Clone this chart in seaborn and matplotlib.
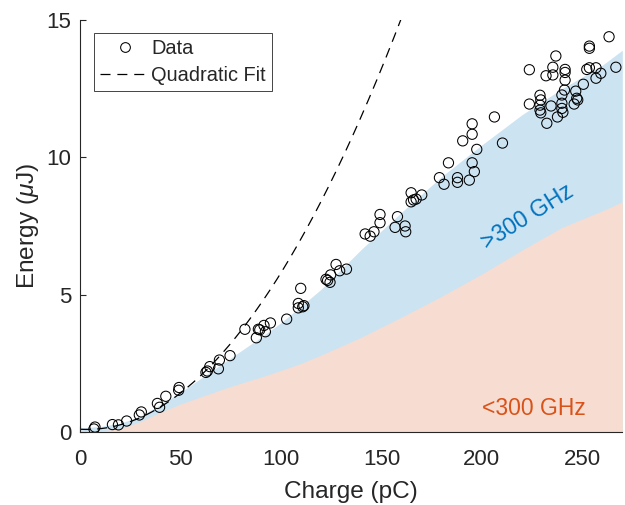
import numpy as np
import pandas as pd
import matplotlib
matplotlib.use("Agg")
import matplotlib.pyplot as plt
from matplotlib.lines import Line2D
import seaborn as sns

# Measured pulse energy vs. bunch charge
charge_pc = [6.8, 7.3, 16.0, 19.0, 23.1, 29.4, 30.4, 38.4, 39.5, 42.6, 49.0, 49.2,
             62.6, 63.3, 64.5, 68.8, 69.3, 74.6,
             82.0, 87.7, 88.7, 89.4, 91.5, 92.2, 94.7, 102.8,
             108.6, 108.6, 110.8, 111.4, 109.8,
             122.4, 123.2, 124.4, 124.7, 127.4, 129.2, 132.6,
             141.9, 144.4, 146.3, 149.3, 149.3, 156.8, 158.0, 161.8, 162.1,
             164.8, 164.8, 166.0, 167.3, 170.1,
             178.9, 181.2, 183.4, 187.9, 187.9, 190.5, 193.8, 195.2, 196.3, 195.2, 195.2, 197.5,
             206.3, 210.3,
             223.7, 223.7, 229.0, 229.4, 229.0, 229.0, 229.4, 232.0, 235.4, 235.4, 232.4, 234.5, 236.9, 237.7,
             239.9, 239.9, 239.9, 240.4, 241.5, 241.5, 241.5, 241.2, 246.8, 247.3, 247.8, 246.0, 250.6, 252.3,
             253.6, 253.6, 253.6, 256.9, 256.9, 259.3, 263.4, 266.8]
energy_uj = [0.11, 0.18, 0.27, 0.26, 0.40, 0.62, 0.73, 1.04, 0.90, 1.30, 1.52, 1.62,
             2.17, 2.22, 2.38, 2.30, 2.62, 2.78,
             3.74, 3.43, 3.74, 3.72, 3.88, 3.65, 3.97, 4.11,
             4.68, 4.52, 4.56, 4.60, 5.23,
             5.56, 5.52, 5.45, 5.72, 6.10, 5.87, 5.93,
             7.21, 7.13, 7.29, 7.92, 7.62, 7.45, 7.84, 7.50, 7.29,
             8.71, 8.38, 8.45, 8.48, 8.63,
             9.26, 9.02, 9.80, 9.26, 9.09, 10.60, 9.17, 9.80, 9.48, 10.84, 11.22, 10.29,
             11.47, 10.52,
             13.19, 11.94, 12.26, 12.09, 11.90, 11.72, 11.62, 12.97, 13.28, 13.00, 11.24, 11.87, 13.69, 11.47,
             12.27, 11.97, 11.78, 11.64, 13.20, 13.09, 12.81, 12.45, 12.41, 12.15, 12.09, 11.94, 12.66, 13.20,
             13.26, 14.05, 13.97, 13.26, 12.88, 13.06, 14.39, 13.28]

# Spectral content bands (upper edges of the shaded regions)
band_charge = [0, 10, 20, 30, 40, 50, 60, 75, 90, 100, 110, 120, 140, 160, 180, 200, 220, 240, 260, 270]
total_energy = [0.15, 0.20, 0.32, 0.58, 1.00, 1.45, 1.95, 2.70, 3.45, 3.98, 4.58, 5.20, 6.65, 8.00,
                9.30, 10.45, 11.55, 12.50, 13.35, 13.90]
low_freq_energy = [0.02, 0.04, 0.12, 0.38, 0.72, 1.02, 1.28, 1.66, 2.00, 2.24, 2.50, 2.80, 3.45, 4.18,
                   4.94, 5.75, 6.62, 7.45, 8.05, 8.38]

# Quadratic fit coefficients (highest order first), uJ vs pC
fit_coeffs = [6.1e-4, -0.004, 0.1]
fit_range = [0, 170]

x_ticks = [0, 50, 100, 150, 200, 250]
y_ticks = [0, 5, 10, 15]

sns.set_theme(style="white")
plt.rcParams["font.family"] = ["Liberation Sans", "DejaVu Sans"]
plt.rcParams["mathtext.fontset"] = "custom"
plt.rcParams["mathtext.rm"] = "Liberation Sans"
plt.rcParams["mathtext.it"] = "Liberation Sans:italic"

ink = "#262626"
blue_fill = "#CCE3F2"
orange_fill = "#F7DDD1"
dash_pattern = (8, 5.5)

fig = plt.figure(figsize=(6.25, 5.05), dpi=100)
ax = fig.add_axes([80.3 / 625, 1 - 432 / 505, 542 / 625, 412 / 505])

ax.fill_between(band_charge, 0, total_energy, color=blue_fill, lw=0, zorder=1)
ax.fill_between(band_charge, 0, low_freq_energy, color=orange_fill, lw=0, zorder=1.1)

data = pd.DataFrame({"charge": charge_pc, "energy": energy_uj})
sns.scatterplot(data=data, x="charge", y="energy", ax=ax, marker="o", s=54,
                facecolor="none", edgecolor="black", linewidth=0.75, zorder=3, legend=False)

fit_q = np.linspace(fit_range[0], fit_range[1], 400)
fit = pd.DataFrame({"charge": fit_q, "energy": np.polyval(fit_coeffs, fit_q)})
sns.lineplot(data=fit, x="charge", y="energy", ax=ax, color="black", lw=0.9,
             dashes=False, zorder=2.5, legend=False)
ax.lines[-1].set_dashes(dash_pattern)

ax.text(222.7, 7.84, ">300 GHz", color="#0072BD", fontsize=16.5, rotation=32,
        ha="center", va="center", rotation_mode="anchor")
ax.text(200, 0.62, "<300 GHz", color="#D95319", fontsize=16.5, ha="left", va="baseline")

ax.set_xlim(0, 270)
ax.set_ylim(0, 15)
ax.set_xticks(x_ticks)
ax.set_yticks(y_ticks)
ax.set_xlabel("Charge (pC)", fontsize=17.6, color=ink, labelpad=8)
ax.set_ylabel(r"Energy ($\mu$J)", fontsize=17.6, color=ink, labelpad=4)

for side in ("top", "right"):
    ax.spines[side].set_visible(False)
for side in ("left", "bottom"):
    ax.spines[side].set_color(ink)
    ax.spines[side].set_linewidth(0.8)
    ax.spines[side].set_zorder(4)
ax.tick_params(bottom=True, left=True, top=False, right=False,
               direction="in", length=4.3, width=0.8, color=ink, labelcolor=ink, labelsize=16)
ax.tick_params(axis="x", pad=12)
ax.tick_params(axis="y", pad=6.5)

handles = [Line2D([], [], marker="o", ls="none", mfc="none", mec="black", ms=7, mew=0.75),
           Line2D([], [], color="black", lw=0.9, dashes=dash_pattern)]
leg = ax.legend(handles, ["Data", "Quadratic Fit"], loc="upper left",
                bbox_to_anchor=(0.0253, 0.9677), borderaxespad=0, fontsize=14.4,
                frameon=True, fancybox=False, edgecolor=ink, framealpha=1,
                handlelength=2.45, handletextpad=0.1, labelspacing=0.4, borderpad=0.3)
leg.get_frame().set_linewidth(0.6)
leg.set_zorder(5)

fig.savefig("out.png", dpi=100)
